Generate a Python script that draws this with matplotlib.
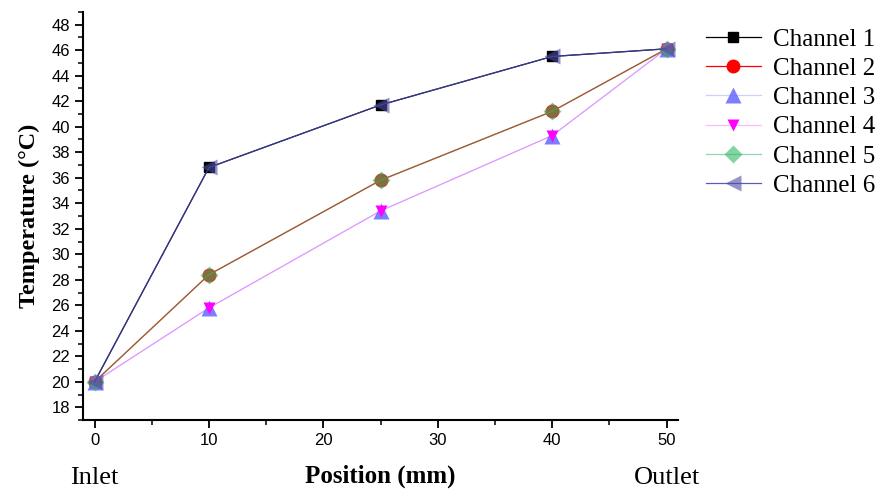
import matplotlib
matplotlib.use("Agg")
import matplotlib.pyplot as plt
from matplotlib.ticker import MultipleLocator
from matplotlib.transforms import blended_transform_factory

# Measured temperatures along the channel
position = [0, 10, 25, 40, 50]
channel_1 = [20.0, 36.8, 41.7, 45.5, 46.1]
channel_2 = [20.0, 28.4, 35.8, 41.2, 46.1]
channel_3 = [20.0, 25.8, 33.4, 39.3, 46.1]
channel_4 = [20.0, 25.8, 33.4, 39.3, 46.1]
channel_5 = [20.0, 28.4, 35.8, 41.2, 46.1]
channel_6 = [20.0, 36.8, 41.7, 45.5, 46.1]
labels = ["Channel 1", "Channel 2", "Channel 3", "Channel 4", "Channel 5", "Channel 6"]

serif = ["Liberation Serif", "DejaVu Serif"]
sans = ["Liberation Sans", "DejaVu Sans"]

fig = plt.figure(figsize=(8.84, 4.92), dpi=100)
ax = fig.add_axes([0.094, 0.146, 0.673, 0.830])

styles = [
    dict(color="black", marker="s", ms=7, mfc="black", mec="black"),
    dict(color="red", marker="o", ms=9, mfc="red", mec="red"),
    dict(color=(0.45, 0.45, 1.0, 0.35), marker="^", ms=11,
         mfc=(0.40, 0.40, 1.0, 0.85), mec=(0.40, 0.40, 1.0, 0.0)),
    dict(color=(1.0, 0.2, 1.0, 0.35), marker="v", ms=9,
         mfc=(1.0, 0.0, 1.0, 1.0), mec=(1.0, 0.0, 1.0, 0.0)),
    dict(color=(0.2, 0.72, 0.4, 0.55), marker="D", ms=9,
         mfc=(0.2, 0.72, 0.4, 0.6), mec=(0.2, 0.72, 0.4, 0.0)),
    dict(color=(0.25, 0.25, 0.68, 0.85), marker="<", ms=11,
         mfc=(0.3, 0.3, 0.65, 0.6), mec=(0.3, 0.3, 0.65, 0.0)),
]
series = [channel_1, channel_2, channel_3, channel_4, channel_5, channel_6]
for y, lab, st in zip(series, labels, styles):
    ax.plot(position, y, lw=0.9, label=lab, **st)

ax.set_xlim(-1, 51)
ax.set_ylim(17, 49)
ax.xaxis.set_major_locator(MultipleLocator(10))
ax.xaxis.set_minor_locator(MultipleLocator(5))
ax.yaxis.set_major_locator(MultipleLocator(2))
ax.yaxis.set_minor_locator(MultipleLocator(1))
ax.tick_params(which="major", direction="out", length=6, width=1.3, labelsize=12)
ax.tick_params(which="minor", direction="out", length=3.5, width=1.1)
for lbl in ax.get_xticklabels() + ax.get_yticklabels():
    lbl.set_family(sans)
for side in ("top", "right"):
    ax.spines[side].set_visible(False)
for side in ("left", "bottom"):
    ax.spines[side].set_linewidth(1.5)

ax.set_ylabel("Temperature (°C)", family=serif, fontweight="bold", fontsize=17.5, labelpad=8)
ax.set_xlabel("Position (mm)", family=serif, fontweight="bold", fontsize=18, labelpad=12)

trans = blended_transform_factory(ax.transData, fig.transFigure)
ax.text(position[0], 0.028, "Inlet", transform=trans, ha="center", va="center",
        family=serif, fontsize=19)
ax.text(position[-1], 0.028, "Outlet", transform=trans, ha="center", va="center",
        family=serif, fontsize=19)

fig.legend(loc="upper left", bbox_to_anchor=(0.787, 0.963), frameon=False,
           prop={"family": serif, "size": 18}, handlelength=2.2, handletextpad=0.5,
           labelspacing=0.27, borderaxespad=0)

fig.savefig("out.png", dpi=100)
